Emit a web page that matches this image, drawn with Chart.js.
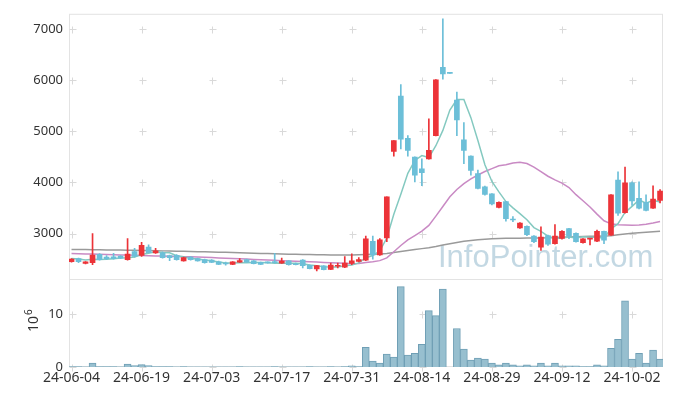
<!DOCTYPE html>
<html>
<head>
<meta charset="utf-8">
<script src="https://cdn.jsdelivr.net/npm/chart.js@4.4.1/dist/chart.umd.min.js"></script>
<style>
  html, body { margin: 0; padding: 0; background: #fff; }
</style>
</head>
<body>
<canvas id="chart" width="673" height="396"></canvas>
<script>
// trading days (index 0..84)
var dates = [
  '24-06-04','24-06-05','24-06-07','24-06-10','24-06-11','24-06-12','24-06-13','24-06-14','24-06-17','24-06-18',
  '24-06-19','24-06-20','24-06-21','24-06-24','24-06-25','24-06-26','24-06-27','24-06-28','24-07-01','24-07-02',
  '24-07-03','24-07-04','24-07-05','24-07-08','24-07-09','24-07-10','24-07-11','24-07-12','24-07-15','24-07-16',
  '24-07-17','24-07-18','24-07-19','24-07-22','24-07-23','24-07-24','24-07-25','24-07-26','24-07-29','24-07-30',
  '24-07-31','24-08-01','24-08-02','24-08-05','24-08-06','24-08-07','24-08-08','24-08-09','24-08-12','24-08-13',
  '24-08-14','24-08-16','24-08-19','24-08-20','24-08-21','24-08-22','24-08-23','24-08-26','24-08-27','24-08-28',
  '24-08-29','24-08-30','24-09-02','24-09-03','24-09-04','24-09-05','24-09-06','24-09-09','24-09-10','24-09-11',
  '24-09-12','24-09-13','24-09-19','24-09-20','24-09-23','24-09-24','24-09-25','24-09-26','24-09-27','24-09-30',
  '24-10-02','24-10-04','24-10-07','24-10-08','24-10-10'
];

var open = [
  2450,2510,2415,2430,2595,2540,2545,2560,2490,2645, 2570,2735,2620,2625,2570,2575,2465,2540,2510,2490,
  2480,2445,2415,2395,2440,2490,2465,2435,2435,2435, 2420,2465,2410,2480,2380,2310,2370,2300,2360,2340,
  2415,2455,2480,2850,2580,2915,4605,5685,4860,4495, 4265,4460,4915,6250,6130,5610,4830,4515,4170,3915,
  3775,3510,3625,3280,3110,3140,2950,2735,2960,2800, 2905,3095,3005,2820,2890,2850,3045,2970,4045,3410,
  3990,3690,3610,3495,3645
];
var high = [
  2510,2520,2450,3000,2610,2570,2615,2570,2900,2710, 2830,2780,2710,2640,2580,2590,2540,2550,2520,2500,
  2490,2460,2440,2450,2510,2500,2470,2440,2445,2615, 2520,2470,2420,2490,2390,2380,2375,2420,2420,2550,
  2605,2530,2950,2950,2900,3720,4815,5910,4915,4500, 4460,5245,6010,7200,6130,5765,5170,4520,4240,3930,
  3780,3620,3630,3330,3215,3150,2960,3130,2970,3175, 3060,3100,3015,2900,2905,3070,3050,3760,4205,4300,
  4010,4010,3755,3935,3860
];
var low = [
  2440,2430,2405,2390,2480,2490,2500,2510,2480,2540, 2555,2620,2610,2520,2470,2480,2460,2480,2460,2420,
  2430,2390,2380,2390,2435,2435,2405,2390,2420,2420, 2415,2380,2385,2330,2310,2270,2290,2295,2330,2335,
  2390,2445,2470,2500,2570,2840,4515,4655,4515,4010, 3935,4455,4910,6020,6130,4915,4365,4140,3870,3750,
  3560,3500,3240,3230,3100,2960,2820,2670,2770,2790, 2890,2900,2830,2810,2775,2840,2800,2965,3355,3400,
  3550,3480,3440,3490,3600
];
var close = [
  2500,2450,2445,2580,2490,2510,2510,2520,2600,2555, 2770,2625,2660,2530,2530,2490,2530,2490,2465,2430,
  2435,2395,2405,2445,2470,2440,2410,2395,2425,2430, 2460,2390,2390,2370,2315,2375,2295,2385,2370,2420,
  2465,2490,2895,2580,2875,3720,4815,4845,4625,4140, 4190,4625,6005,6120,6130,5220,4625,4235,3880,3765,
  3580,3610,3290,3265,3205,2980,2840,2930,2790,2950, 3045,2950,2840,2895,2900,3045,2870,3755,3400,3990,
  3640,3495,3450,3675,3830
];
// volume, millions
var volume = [
  0.08,0.06,0.05,0.75,0.1,0.06,0.07,0.05,0.56,0.25, 0.45,0.25,0.1,0.08,0.06,0.05,0.06,0.05,0.04,0.05,
  0.05,0.04,0.04,0.05,0.06,0.04,0.04,0.03,0.03,0.06, 0.05,0.04,0.03,0.05,0.06,0.05,0.04,0.06,0.04,0.08,
  0.2,0.1,3.75,1.1,0.75,2.45,1.9,15.25,2.25,2.6, 4.3,10.7,9.75,14.8,0,7.3,3.4,1.3,1.7,1.5,
  0.75,0.4,0.75,0.4,0.2,0.4,0.2,0.75,0.2,0.75, 0.2,0.2,0.2,0.08,0.06,0.4,0.2,3.55,5.25,12.55,
  1.5,2.6,0.75,3.2,1.5
];
// moving averages
var ma5 = [
  2510,2500,2485,2495,2493,2495,2507,2522,2526,2539, 2591,2614,2642,2628,2623,2567,2548,2514,2501,2481,
  2470,2443,2426,2422,2430,2431,2434,2432,2428,2420, 2424,2420,2419,2408,2385,2368,2349,2348,2348,2369,
  2387,2426,2528,2570,2661,2912,3377,3767,4176,4429, 4523,4485,4717,5016,5414,5620,5620,5266,4818,4345,
  4017,3814,3625,3502,3390,3270,3116,3044,2949,2898, 2911,2933,2915,2936,2926,2926,2910,3093,3194,3412,
  3531,3656,3595,3650,3618
];
var ma20 = [
  2610,2606,2602,2598,2594,2590,2586,2582,2578,2574, 2570,2566,2563,2560,2556,2552,2548,2544,2540,2535,
  2530,2524,2518,2512,2506,2500,2494,2488,2482,2476, 2470,2465,2460,2455,2448,2442,2436,2430,2425,2418,
  2410,2412,2435,2450,2470,2523,2643,2766,2876,2961, 3048,3159,3340,3528,3718,3861,3977,4070,4145,4212,
  4268,4324,4344,4378,4395,4370,4300,4210,4120,4050, 3985,3900,3760,3640,3520,3380,3250,3190,3170,3165,
  3162,3165,3180,3205,3235
];
var ma120 = [
  2690,2688,2686,2684,2682,2680,2678,2676,2674,2672, 2670,2667,2664,2661,2658,2655,2652,2649,2646,2643,
  2640,2636,2632,2628,2624,2620,2616,2612,2608,2604, 2600,2597,2594,2591,2588,2585,2583,2581,2580,2580,
  2582,2585,2590,2594,2598,2610,2630,2650,2670,2690, 2705,2720,2745,2775,2800,2825,2850,2865,2880,2890,
  2897,2903,2906,2908,2910,2912,2913,2915,2918,2922, 2926,2930,2935,2942,2946,2948,2950,2955,2975,2990,
  3005,3015,3025,3035,3044
];
var xTicks = [0, 10, 20, 30, 40, 50, 60, 70, 80];
var priceTicks = [3000, 4000, 5000, 6000, 7000];
var volTicks = [0, 10];

var UP = '#ec3338', DOWN = '#6cbfd8';
var candleColors = [], bodies = [], wicks = [], volBars = [];
for (var i = 0; i < dates.length; i++) {
  candleColors.push(close[i] > open[i] ? UP : DOWN);
  bodies.push({ x: i, y: [open[i], close[i]] });
  wicks.push({ x: i, y: [low[i], high[i]] });
  volBars.push({ x: i, y: volume[i] });
}
function asLine(arr) {
  return arr.map(function (v, i) { return { x: i, y: v }; });
}

// frame, grid crosses and watermark
var decor = {
  id: 'decor',
  beforeDatasetsDraw: function (chart) {
    var ctx = chart.ctx, a = chart.chartArea;
    var sx = chart.scales.x, sp = chart.scales.yp, sv = chart.scales.yv;
    ctx.save();
    ctx.strokeStyle = '#e3e3e3';
    ctx.lineWidth = 1;
    ctx.strokeRect(a.left + 0.5, a.top + 0.5, a.right - a.left - 1, a.bottom - a.top - 1);
    ctx.beginPath();
    var sep = Math.round(sv.top) + 0.5;
    ctx.moveTo(a.left, sep); ctx.lineTo(a.right, sep);
    ctx.stroke();

    ctx.strokeStyle = '#d9d9d9';
    ctx.beginPath();
    xTicks.forEach(function (t) {
      var x = Math.round(sx.getPixelForValue(t)) + 0.5;
      var ys = priceTicks.map(function (p) { return sp.getPixelForValue(p); })
        .concat(volTicks.map(function (p) { return sv.getPixelForValue(p); }));
      ys.forEach(function (y) {
        y = Math.round(y) + 0.5;
        ctx.moveTo(x - 3, y); ctx.lineTo(x + 4, y);
        ctx.moveTo(x, y - 3); ctx.lineTo(x, y + 4);
      });
    });
    ctx.stroke();

    ctx.font = '31px "Liberation Sans", Arial, sans-serif';
    ctx.fillStyle = 'rgba(170, 200, 215, 0.7)';
    ctx.textBaseline = 'alphabetic';
    ctx.fillText('InfoPointer.com', 438, 267);
    ctx.restore();
  },
  afterDraw: function (chart) {
    var ctx = chart.ctx;
    ctx.save();
    ctx.translate(38, 332);
    ctx.rotate(-Math.PI / 2);
    ctx.fillStyle = '#333';
    ctx.font = '14px "Noto Sans", sans-serif';
    ctx.textBaseline = 'alphabetic';
    ctx.fillText('10', 0, 0);
    var w = ctx.measureText('10').width;
    ctx.font = '10px "Noto Sans", sans-serif';
    ctx.fillText('6', w + 1, -6);
    ctx.restore();
  }
};

new Chart(document.getElementById('chart'), {
  type: 'bar',
  data: {
    datasets: [
      { type: 'line', data: asLine(ma120), yAxisID: 'yp', borderColor: '#9a9a9a', borderWidth: 1.5, pointRadius: 0, order: 6 },
      { type: 'line', data: asLine(ma20), yAxisID: 'yp', borderColor: '#c98ac4', borderWidth: 1.5, pointRadius: 0, order: 5 },
      { type: 'line', data: asLine(ma5), yAxisID: 'yp', borderColor: '#84c9c0', borderWidth: 1.5, pointRadius: 0, order: 4 },
      { data: wicks, yAxisID: 'yp', backgroundColor: candleColors, barThickness: 1, grouped: false, order: 2 },
      { data: bodies, yAxisID: 'yp', backgroundColor: candleColors, barThickness: 5, minBarLength: 1, grouped: false, order: 1 },
      { data: volBars, yAxisID: 'yv', backgroundColor: '#97bfcf', borderColor: '#6f9fb5', borderWidth: 1, barThickness: 7, grouped: false, order: 7 }
    ]
  },
  options: {
    responsive: false,
    animation: false,
    layout: { autoPadding: false, padding: { left: 0, right: 10, top: 10, bottom: 0 } },
    plugins: { legend: { display: false }, tooltip: { enabled: false } },
    scales: {
      x: {
        type: 'linear',
        offset: false,
        min: -0.36,
        max: 84.42,
        afterFit: function (s) { s.height = 29; s.paddingLeft = 0; s.paddingRight = 0; },
        afterBuildTicks: function (s) { s.ticks = xTicks.map(function (v) { return { value: v }; }); },
        grid: { display: false, drawTicks: false },
        border: { display: false },
        ticks: {
          autoSkip: false, maxRotation: 0, padding: 3,
          color: '#333', font: { family: 'Noto Sans', size: 14 },
          callback: function (v) { return dates[v]; }
        }
      },
      yv: {
        type: 'linear',
        position: 'left',
        stack: 'panes',
        stackWeight: 1,
        min: 0,
        max: 16.75,
        afterFit: function (s) { s.width = 69; },
        afterBuildTicks: function (s) { s.ticks = volTicks.map(function (v) { return { value: v }; }); },
        grid: { display: false, drawTicks: false },
        border: { display: false },
        ticks: { padding: 6, color: '#333', font: { family: 'Noto Sans', size: 13 }, callback: function (v) { return String(v); } }
      },
      yp: {
        type: 'linear',
        position: 'left',
        stack: 'panes',
        stackWeight: 3,
        min: 2117,
        max: 7296,
        afterFit: function (s) { s.width = 69; },
        afterBuildTicks: function (s) { s.ticks = priceTicks.map(function (v) { return { value: v }; }); },
        grid: { display: false, drawTicks: false },
        border: { display: false },
        ticks: { padding: 6, color: '#333', font: { family: 'Noto Sans', size: 13 }, callback: function (v) { return String(v); } }
      }
    }
  },
  plugins: [decor]
});
</script>
</body>
</html>
